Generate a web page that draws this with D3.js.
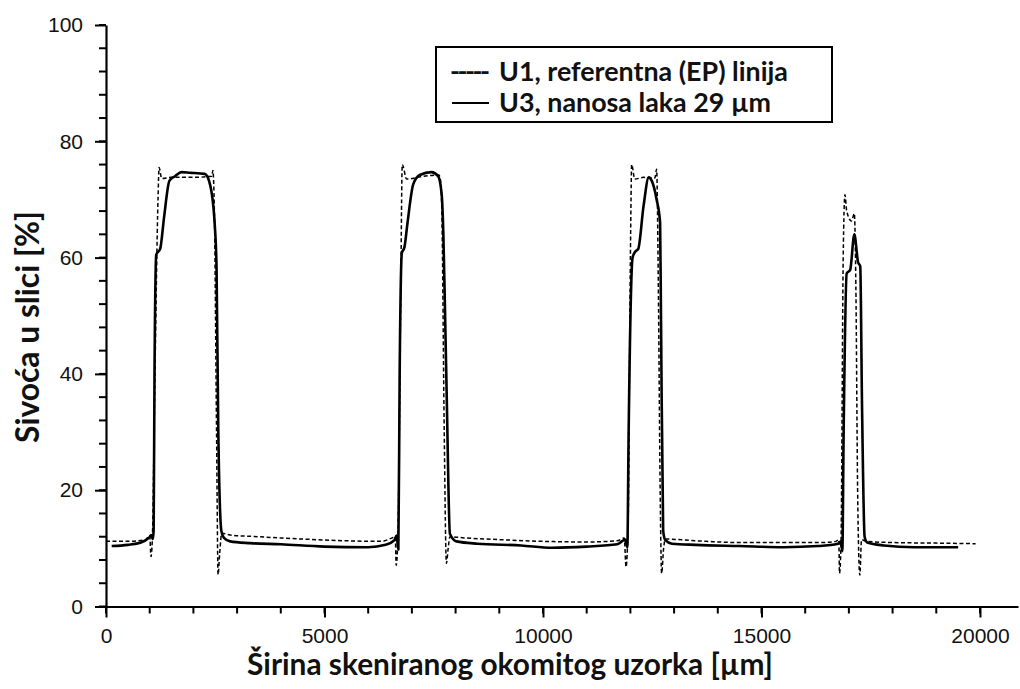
<!DOCTYPE html>
<html>
<head>
<meta charset="utf-8">
<script src="https://cdn.jsdelivr.net/npm/d3@7"></script>
<style>
  html, body { margin: 0; padding: 0; background: #fff; }
  svg { display: block; }
</style>
</head>
<body>
<svg id="chart" width="1020" height="689"></svg>
<script>
// ---------- DATA ----------
// U1, referentna (EP) linija  (dashed)
const u1X = [0, 500, 900, 1000, 1030, 1060, 1120, 1190, 1215, 1275, 1500, 2000, 2420, 2445, 2480, 2530, 2565, 2600, 2650, 2840, 3500, 4500, 5500, 6300, 6550, 6620, 6640, 6680, 6740, 6780, 6880, 7200, 7620, 7660, 7690, 7740, 7790, 7830, 7870, 8200, 9000, 10000, 11000, 11700, 11860, 11900, 11950, 12000, 12030, 12100, 12300, 12560, 12600, 12640, 12680, 12715, 12760, 12800, 13500, 14500, 15500, 16400, 16700, 16770, 16785, 16820, 16870, 16910, 16950, 17060, 17125, 17160, 17200, 17250, 17290, 17400, 18000, 19000, 19900];
const u1Y = [11.2, 11.2, 11.5, 12.2, 8.6, 11.5, 40, 70, 75.5, 73.6, 73.8, 73.8, 74.0, 75.0, 68, 30, 5.5, 9, 12.6, 12.3, 12.0, 11.6, 11.3, 11.2, 11.8, 12.0, 7.1, 12, 50, 76, 73.5, 73.9, 74.2, 73, 66, 30, 7.4, 10, 12.0, 11.8, 11.5, 11.2, 11.1, 11.3, 11.8, 6.8, 15, 60, 76, 73.5, 73.8, 73.7, 75.2, 55, 21, 5.7, 10, 11.6, 11.3, 11.0, 11.0, 11.0, 11.2, 11.5, 5.7, 11, 60, 70.8, 68, 66.3, 67.6, 55, 20, 5.4, 11.5, 11.2, 11.0, 10.9, 10.8];

// U3, nanosa laka 29 µm  (solid)
const u3X = [130, 500, 800, 980, 1040, 1070, 1090, 1110, 1150, 1240, 1330, 1450, 1580, 1730, 1920, 2260, 2380, 2490, 2530, 2570, 2640, 2700, 2840, 3300, 4000, 5000, 6000, 6400, 6600, 6650, 6690, 6720, 6770, 6830, 6900, 7030, 7180, 7450, 7600, 7680, 7720, 7760, 7800, 7870, 8020, 8500, 9500, 10200, 11000, 11700, 11880, 11930, 11960, 12050, 12110, 12180, 12300, 12420, 12490, 12600, 12680, 12700, 12750, 12800, 12950, 13500, 14500, 15500, 16300, 16750, 16820, 16850, 16880, 16950, 17030, 17125, 17210, 17260, 17300, 17360, 17420, 17800, 18500, 19500];
const u3Y = [10.4, 10.6, 11.0, 11.8, 12.3, 11.6, 13, 40, 60.5, 61.5, 67, 73.2, 74.0, 74.7, 74.6, 74.4, 72.6, 65.5, 58, 30, 13, 11.8, 11.2, 10.9, 10.7, 10.3, 10.2, 10.6, 11.4, 12.2, 9.8, 40, 60.8, 61.8, 66, 72.6, 74.2, 74.7, 74.0, 71, 64, 50, 35, 12.5, 11.2, 10.8, 10.5, 10.1, 10.3, 10.7, 11.5, 10.2, 30, 60, 61, 61.5, 68.8, 73.8, 73.2, 70, 66, 50, 13, 11.4, 10.8, 10.6, 10.4, 10.2, 10.4, 10.8, 11.2, 9.5, 30, 57.3, 57.9, 64, 59.2, 58.5, 35, 12, 11.0, 10.5, 10.2, 10.2];

const xMajorTicks = [0, 5000, 10000, 15000, 20000];
const xMinorTicks = d3.range(0, 20001, 1000);
const yMajorTicks = [0, 20, 40, 60, 80, 100];
const yMinorTicks = d3.range(0, 101, 4);

const xTitle = "Širina skeniranog okomitog uzorka [µm]";
const yTitle = "Sivoća u slici [%]";
const legendLabels = ["U1, referentna (EP) linija", "U3, nanosa laka 29 µm"];

// ---------- CHART ----------
const svg = d3.select("#chart");
const x = d3.scaleLinear().domain([0, 20870]).range([106, 1018]);
const y = d3.scaleLinear().domain([0, 100]).range([606.5, 25]);

const tickFont = "'Liberation Sans', Arial, sans-serif";
const titleFont = "Lato, 'Open Sans', sans-serif";

function fitWidth(sel, target) {
  const base = parseFloat(sel.style("font-size"));
  const w = sel.node().getComputedTextLength();
  if (w > 0) sel.style("font-size", (base * target / w).toFixed(2) + "px");
  return sel;
}

// minor ticks (drawn directly from scales)
const minorG = svg.append("g").attr("class", "minor-ticks");
minorG.selectAll("line.xminor").data(xMinorTicks).join("line")
  .attr("class", "xminor")
  .attr("x1", d => x(d)).attr("x2", d => x(d))
  .attr("y1", y(0)).attr("y2", y(0) + 7)
  .style("stroke", "#000").style("stroke-width", "2px");
minorG.selectAll("line.yminor").data(yMinorTicks).join("line")
  .attr("class", "yminor")
  .attr("x1", x(0) - 7).attr("x2", x(0))
  .attr("y1", d => y(d)).attr("y2", d => y(d))
  .style("stroke", "#000").style("stroke-width", "2px");

// major axes
const xAxis = svg.append("g").attr("transform", `translate(0,${y(0)})`)
  .call(d3.axisBottom(x).tickValues(xMajorTicks).tickSize(11).tickSizeOuter(0).tickPadding(11).tickFormat(d3.format("d")));
const yAxis = svg.append("g").attr("transform", `translate(${x(0)},0)`)
  .call(d3.axisLeft(y).tickValues(yMajorTicks).tickSize(11).tickSizeOuter(0).tickPadding(12).tickFormat(d3.format("d")));
[xAxis, yAxis].forEach(g => {
  g.select(".domain").attr("stroke", "#000").attr("stroke-width", 2.2);
  g.selectAll(".tick line").attr("stroke", "#000").attr("stroke-width", 2);
  g.selectAll(".tick text").attr("fill", "#111").style("font-family", tickFont).style("font-size", "21px");
});

// lines
const line = d3.line().curve(d3.curveMonotoneX).x(d => x(d[0])).y(d => y(d[1]));
const u3 = u3X.map((v, i) => [v, u3Y[i]]);
const u1 = u1X.map((v, i) => [v, u1Y[i]]);
svg.append("path").datum(u3).attr("d", line)
  .attr("fill", "none").attr("stroke", "#000").attr("stroke-width", 2.6).attr("stroke-linejoin", "round");
svg.append("path").datum(u1).attr("d", line)
  .attr("fill", "none").attr("stroke", "#000").attr("stroke-width", 1.5).attr("stroke-dasharray", "4,2.5");

// axis titles
const xt = svg.append("text").attr("x", 510).attr("y", 675).attr("text-anchor", "middle")
  .style("font-family", titleFont).style("font-weight", "bold").style("font-size", "22px").attr("fill", "#111")
  .text(xTitle);
fitWidth(xt, 526);
const yt = svg.append("text").attr("transform", "translate(39,327) rotate(-90)").attr("text-anchor", "middle")
  .style("font-family", titleFont).style("font-weight", "bold").style("font-size", "22px").attr("fill", "#111")
  .text(yTitle);
fitWidth(yt, 232);

// legend
const lg = svg.append("g");
lg.append("rect").attr("x", 436).attr("y", 47).attr("width", 396).attr("height", 75)
  .attr("fill", "#fff").attr("stroke", "#000").attr("stroke-width", 2);
const lt0 = lg.append("text").attr("x", 499).attr("y", 81)
  .style("font-family", titleFont).style("font-weight", "bold").style("font-size", "22px").attr("fill", "#111")
  .text(legendLabels[0]);
fitWidth(lt0, 289);
const fs = lt0.style("font-size");
lg.append("text").attr("x", 499).attr("y", 112)
  .style("font-family", titleFont).style("font-weight", "bold").style("font-size", fs).attr("fill", "#111")
  .text(legendLabels[1]);
const dashTxt = lg.append("text").attr("x", 450).attr("y", 81)
  .style("font-family", titleFont).style("font-weight", "bold").style("font-size", fs).attr("fill", "#111")
  .text("-----");
dashTxt.attr("textLength", 40).attr("lengthAdjust", "spacing");
lg.append("line").attr("x1", 452).attr("x2", 489).attr("y1", 103).attr("y2", 103)
  .attr("stroke", "#000").attr("stroke-width", 2);
</script>
</body>
</html>
